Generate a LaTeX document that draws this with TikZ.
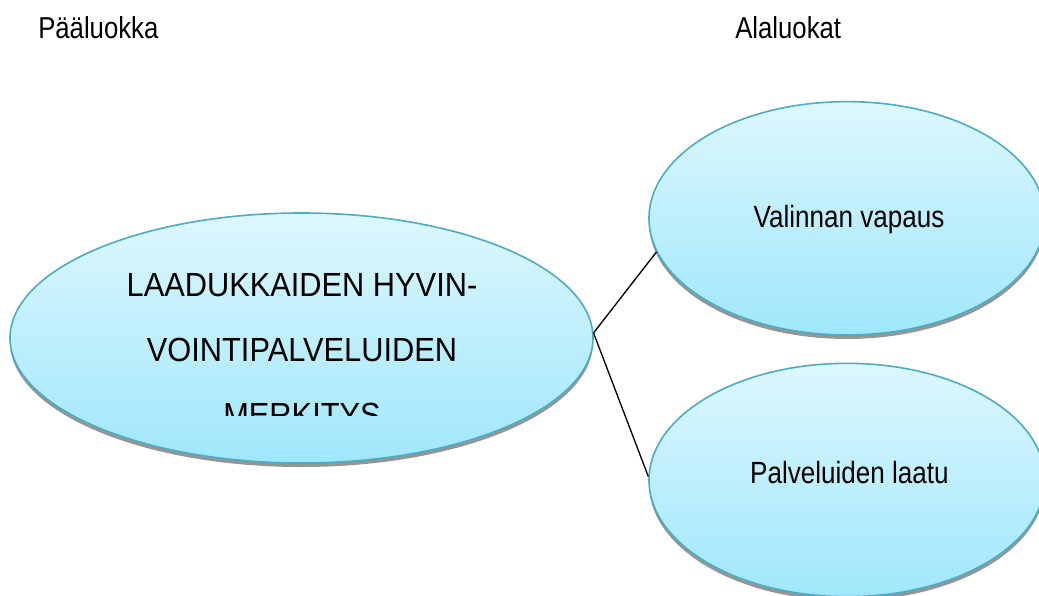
\documentclass[tikz,border=0pt]{standalone}
\usepackage{fontspec}
\setmainfont{Liberation Sans}
\newfontfamily\headfont[FakeStretch=0.85]{Liberation Sans}
\newfontfamily\titlefont[FakeStretch=0.92]{Liberation Sans}
\usetikzlibrary{shapes.geometric,shadows}
\definecolor{bubbleedge}{HTML}{4BACC6}
\definecolor{bubbletop}{HTML}{DDF7FE}
\definecolor{bubblebottom}{HTML}{A0E7FB}
\definecolor{shadowgray}{HTML}{959595}

\begin{document}
\begin{tikzpicture}[x=0.75pt,y=-0.75pt,
  bubble/.style={ellipse, draw=bubbleedge, line width=1.2pt,
    top color=bubbletop, bottom color=bubblebottom, inner sep=0pt,
    drop shadow={shadow xshift=0pt, shadow yshift=-3pt, fill=shadowgray, opacity=1}},
  header/.style={anchor=base west, inner sep=0pt, font=\headfont\fontsize{22.7pt}{27pt}\selectfont},
  sublabel/.style={anchor=base, inner sep=0pt, font=\headfont\fontsize{23pt}{27pt}\selectfont},
  link/.style={line width=1pt, black}]

\useasboundingbox (0,0) rectangle (1039,596);
\clip (0,0) rectangle (1039,596);

% column headings
\node[header] (main-head) at (38,38.3) {Pääluokka};
\node[header] (sub-head) at (735,38) {Alaluokat};

% main class and the two subclasses
\node[bubble, minimum width=437.25pt, minimum height=187.5pt] (main) at (301.5,338) {};
\node[bubble, minimum width=297pt, minimum height=175pt] (choice) at (847,218.3) {};
\node[bubble, minimum width=297pt, minimum height=175pt] (quality) at (847,480) {};

% main class text, cut off by its text box (base = last line)
\begin{scope}
  \clip (0,0) rectangle (1039,415.7);
  \node[anchor=base, align=center, inner sep=0pt,
        font=\titlefont\fontsize{25.1pt}{48.4pt}\selectfont] (main-text) at (302,426)
       {LAADUKKAIDEN HYVIN-\\VOINTIPALVELUIDEN\\MERKITYS};
\end{scope}

\node[sublabel] (choice-text) at (849,227.3) {Valinnan vapaus};
\node[sublabel] (quality-text) at (849.5,483.3) {Palveluiden laatu};

% connectors
\draw[link] (main.1) -- (choice.190);
\draw[link] (main.1) -- (quality.179);
\end{tikzpicture}
\end{document}
